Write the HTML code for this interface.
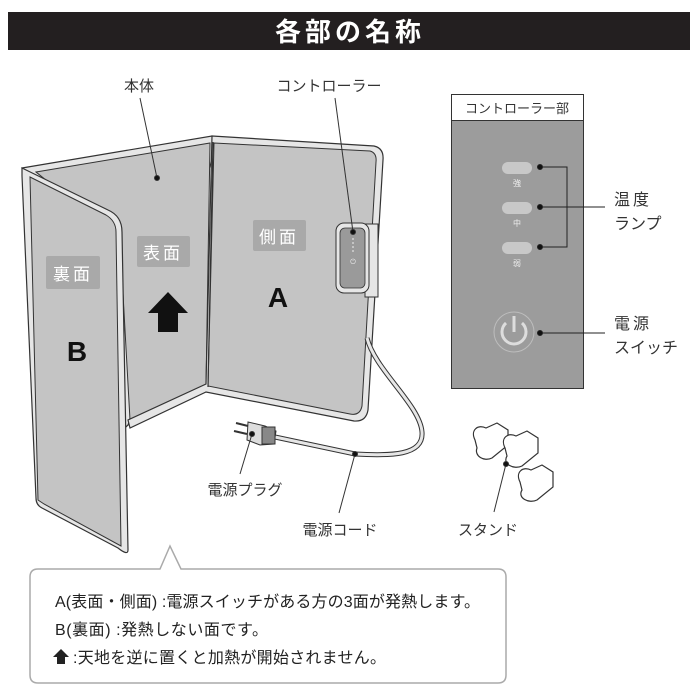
<!DOCTYPE html>
<html><head><meta charset="utf-8"><style>
html,body{margin:0;padding:0;background:#fff;}
svg{display:block;}
text{font-family:"Liberation Sans","Noto Sans CJK JP",sans-serif;}
</style></head><body>
<svg width="700" height="700" viewBox="0 0 700 700" xmlns="http://www.w3.org/2000/svg">
<rect x="0" y="0" width="700" height="700" fill="#fff"/>
<!-- header -->
<rect x="8" y="12" width="682" height="38" fill="#231f20"/>
<text x="350" y="41" text-anchor="middle" font-size="26" font-weight="bold" fill="#fff" letter-spacing="4">各部の名称</text>

<!-- middle panel (表面) -->
<polygon points="22,168 212,136 218,141 128,425 42,505" fill="#e6e6e6" stroke="#333" stroke-width="1.2"/>
<polygon points="36,172 210,143 206,386 130,420 120,240" fill="#c4c4c4" stroke="#333" stroke-width="1"/>
<!-- side A panel -->
<path d="M212,136 L374,146 Q384,148 383,160 L368,410 Q366,422 354,421 L206,392 L130,428 L128,420 L206,384 Z" fill="#e6e6e6" stroke="#333" stroke-width="1.2"/>
<path d="M214,143 L370,151 Q377,153 376,162 L362,406 Q360,416 350,414 L208,386 Z" fill="#c4c4c4" stroke="#333" stroke-width="1"/>
<line x1="213" y1="142" x2="208" y2="387" stroke="#333" stroke-width="1.2"/>
<!-- B panel -->
<path d="M22,168 L108,210 Q122,216 122,232 L128,550 Q128,556 118,548 L42,508 Q36,505 36,498 L22,176 Z" fill="#e6e6e6" stroke="#333" stroke-width="1.2"/>
<path d="M30,177 L106,215 Q116,221 116,232 L121,546 L44,504 L38,500 Z" fill="#c4c4c4" stroke="#333" stroke-width="1"/>

<!-- labels on panels -->
<rect x="137" y="236" width="53" height="31" rx="2" fill="#a9a9a9"/>
<text x="163" y="259" text-anchor="middle" font-size="17" fill="#fff" letter-spacing="3">表面</text>
<rect x="46" y="256" width="54" height="33" rx="2" fill="#a9a9a9"/>
<text x="73" y="280" text-anchor="middle" font-size="17" fill="#fff" letter-spacing="3">裏面</text>
<rect x="253" y="220" width="53" height="31" rx="2" fill="#a9a9a9"/>
<text x="279" y="243" text-anchor="middle" font-size="17" fill="#fff" letter-spacing="3">側面</text>
<text x="278" y="307" text-anchor="middle" font-size="28" font-weight="bold" fill="#111">A</text>
<text x="77" y="361" text-anchor="middle" font-size="28" font-weight="bold" fill="#111">B</text>
<polygon points="168,292 188,313 178,313 178,332 158,332 158,313 148,313" fill="#111"/>

<!-- controller on A -->
<rect x="365" y="224" width="13" height="73" fill="#e6e6e6" stroke="#333" stroke-width="1"/>
<rect x="336" y="223" width="33" height="70" rx="8" fill="#e6e6e6" stroke="#333" stroke-width="1"/>
<rect x="340" y="228" width="25" height="60" rx="5" fill="#9a9a9a" stroke="#333" stroke-width="0.8"/>
<text x="353" y="264" text-anchor="middle" font-size="7" fill="#eee">⏻</text>
<line x1="353" y1="238" x2="353" y2="252" stroke="#eee" stroke-width="1" stroke-dasharray="2,2"/>

<!-- cord -->
<path d="M367,338 C375,370 420,405 422,432 C424,456 390,456 355,454 L275,437" fill="none" stroke="#333" stroke-width="5"/>
<path d="M367,338 C375,370 420,405 422,432 C424,456 390,456 355,454 L275,437" fill="none" stroke="#e6e6e6" stroke-width="3"/>
<!-- plug -->
<polygon points="248,422 265,426 276,431 274,444 260,445 247,440" fill="#ddd" stroke="#333" stroke-width="1"/>
<rect x="262" y="427" width="13" height="17" fill="#888" stroke="#333" stroke-width="1"/>
<line x1="248" y1="426" x2="236" y2="423" stroke="#333" stroke-width="2"/>
<line x1="247" y1="434" x2="234" y2="431" stroke="#333" stroke-width="2"/>

<!-- stands -->
<g fill="#fff" stroke="#333" stroke-width="1.2">
<path d="M475,440 C470,430 478,424 486,428 L497,423 L508,430 L508,445 L492,458 C484,462 474,456 477,448 Z"/>
<path d="M505,448 C500,438 508,432 516,436 L527,431 L538,438 L538,453 L522,466 C514,470 502,464 507,456 Z"/>
<path d="M520,482 C515,472 523,466 531,470 L542,465 L553,472 L553,487 L537,500 C529,504 517,498 522,490 Z"/>
</g>

<!-- leaders left -->
<g stroke="#333" stroke-width="1" fill="#111">
<line x1="140" y1="98" x2="157" y2="178"/><circle cx="157" cy="178" r="2.5"/>
<line x1="335" y1="98" x2="353" y2="232"/><circle cx="353" cy="232" r="2.5"/>
<line x1="252" y1="434" x2="240" y2="474"/><circle cx="252" cy="434" r="2.5"/>
<line x1="355" y1="454" x2="339" y2="513"/><circle cx="355" cy="454" r="2.5"/>
<line x1="506" y1="464" x2="494" y2="512"/><circle cx="506" cy="464" r="2.5"/>
</g>
<g font-size="15" fill="#333">
<text x="139" y="91" text-anchor="middle">本体</text>
<text x="329" y="91" text-anchor="middle">コントローラー</text>
<text x="245" y="495" text-anchor="middle">電源プラグ</text>
<text x="340" y="535" text-anchor="middle">電源コード</text>
<text x="488" y="535" text-anchor="middle">スタンド</text>
</g>

<!-- controller panel -->
<rect x="451.5" y="94.5" width="132" height="294" fill="#9c9c9c" stroke="#333" stroke-width="1"/>
<rect x="451.5" y="94.5" width="132" height="26" fill="#fff" stroke="#333" stroke-width="1"/>
<text x="517" y="113" text-anchor="middle" font-size="13" fill="#333">コントローラー部</text>
<g fill="#c8c8c8">
<rect x="502" y="162" width="30" height="12" rx="6"/>
<rect x="502" y="202" width="30" height="12" rx="6"/>
<rect x="502" y="242" width="30" height="12" rx="6"/>
</g>
<g font-size="8" fill="#eee" text-anchor="middle">
<text x="517" y="186">強</text><text x="517" y="226">中</text><text x="517" y="266">弱</text>
</g>
<circle cx="514" cy="332" r="20" fill="none" stroke="#bdbdbd" stroke-width="1"/>
<path d="M506,323 A12,12 0 1 0 522,323" fill="none" stroke="#ddd" stroke-width="3"/>
<line x1="514" y1="316" x2="514" y2="332" stroke="#ddd" stroke-width="3"/>
<g stroke="#222" stroke-width="1" fill="#111">
<polyline points="540,167 567,167 567,247 540,247" fill="none"/>
<line x1="540" y1="207" x2="605" y2="207"/>
<line x1="540" y1="333" x2="605" y2="333"/>
<circle cx="540" cy="167" r="2.5"/><circle cx="540" cy="207" r="2.5"/><circle cx="540" cy="247" r="2.5"/><circle cx="540" cy="333" r="2.5"/>
</g>
<g font-size="16" fill="#333">
<text x="614" y="205" letter-spacing="3">温度</text>
<text x="614" y="229">ランプ</text>
<text x="614" y="329" letter-spacing="3">電源</text>
<text x="614" y="353">スイッチ</text>
</g>

<!-- callout -->
<path d="M38,569 L160,569 L170,546 L181,569 L498,569 Q506,569 506,577 L506,675 Q506,683 498,683 L38,683 Q30,683 30,675 L30,577 Q30,569 38,569 Z" fill="#fff" stroke="#aaa" stroke-width="1.5"/>
<g font-size="16" fill="#222">
<text x="55" y="607" textLength="425" lengthAdjust="spacing">A(表面・側面) :電源スイッチがある方の3面が発熱します。</text>
<text x="55" y="635" textLength="213" lengthAdjust="spacing">B(裏面) :発熱しない面です。</text>
<text x="73" y="663" textLength="313" lengthAdjust="spacing">:天地を逆に置くと加熱が開始されません。</text>
</g>
<polygon points="61,649 69,657 65,657 65,664 57,664 57,657 53,657" fill="#222"/>
</svg>
</body></html>
